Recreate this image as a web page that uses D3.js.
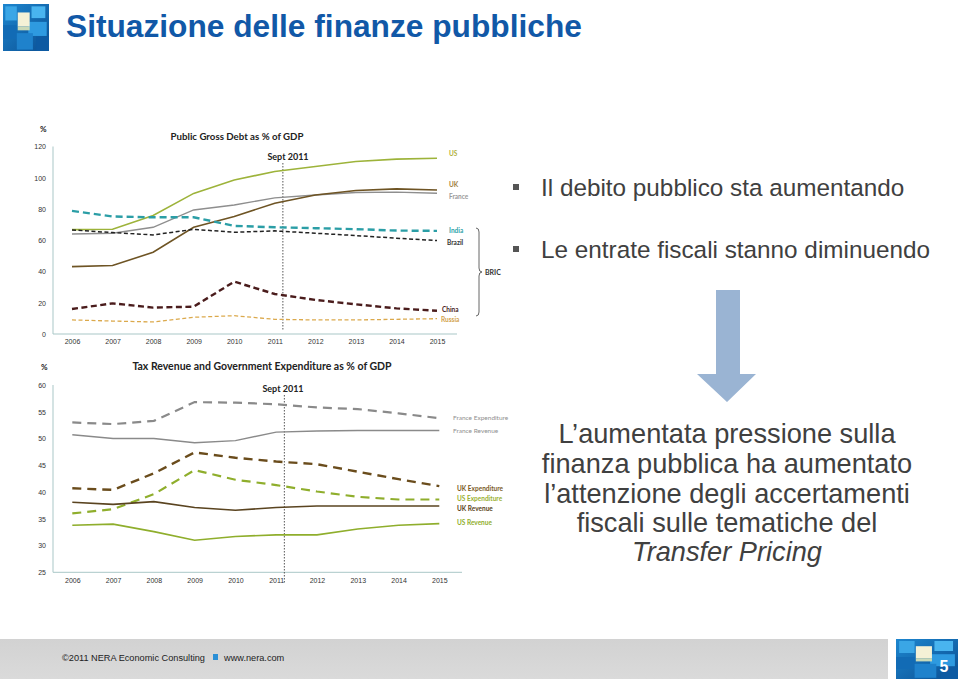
<!DOCTYPE html>
<html><head><meta charset="utf-8">
<script src="https://cdn.jsdelivr.net/npm/d3@7"></script>
<style>
html,body{margin:0;padding:0;background:#fff;}
svg{display:block;}
</style></head>
<body>
<svg id="chart" width="960" height="679"></svg>
<script>
// ---------- DATA ----------
const years = [2006, 2007, 2008, 2009, 2010, 2011, 2012, 2013, 2014, 2015];
const septMark = 2011.2;
const debtTicks = [0, 20, 40, 60, 80, 100, 120];
const taxTicks = [25, 30, 35, 40, 45, 50, 55, 60];

const debtUS     = [66.8, 67.0, 75.8, 90.0, 98.6, 104.0, 107.2, 110.4, 111.9, 112.5];
const debtUK     = [43.1, 43.8, 52.3, 68.3, 75.2, 83.7, 89.0, 91.8, 92.9, 92.2];
const debtFrance = [64.0, 64.5, 68.3, 79.4, 82.6, 87.1, 89.0, 90.6, 90.8, 90.1];
const debtIndia  = [78.8, 75.2, 74.7, 74.7, 69.2, 68.3, 67.7, 67.1, 66.2, 66.0];
const debtBrazil = [66.6, 64.9, 63.4, 67.0, 65.1, 66.0, 64.5, 63.0, 61.3, 59.8];
const debtChina  = [16.0, 19.6, 16.9, 17.5, 33.5, 25.6, 21.8, 19.0, 16.4, 14.9];
const debtRussia = [9.0, 8.3, 7.7, 10.7, 11.7, 9.4, 9.0, 9.0, 9.4, 9.8];

const taxFranceExp = [53.0, 52.7, 53.3, 56.8, 56.7, 56.4, 55.8, 55.5, 54.7, 53.8];
const taxFranceRev = [50.7, 50.0, 50.0, 49.2, 49.6, 51.2, 51.4, 51.5, 51.5, 51.5];
const taxUKExp     = [40.7, 40.4, 43.5, 47.4, 46.4, 45.7, 45.2, 43.8, 42.4, 41.1];
const taxUSExp     = [36.0, 36.8, 39.6, 44.1, 42.3, 41.3, 40.1, 39.1, 38.6, 38.6];
const taxUKRev     = [38.1, 37.7, 38.2, 37.1, 36.6, 37.1, 37.4, 37.4, 37.4, 37.4];
const taxUSRev     = [33.8, 34.0, 32.6, 31.0, 31.7, 32.0, 32.0, 33.1, 33.8, 34.1];

const debtSeries = [
  {name: "US", values: debtUS, color: "#9db33a", width: 1.6, dash: null, label: "US", lcolor: "#b0b03c", ly: 156, lx: 449},
  {name: "France", values: debtFrance, color: "#8e8e8e", width: 1.4, dash: null, label: "France", lcolor: "#9a9a9a", ly: 199, lx: 449},
  {name: "UK", values: debtUK, color: "#6e5424", width: 1.6, dash: null, label: "UK", lcolor: "#a08040", ly: 187, lx: 449},
  {name: "India", values: debtIndia, color: "#2b9ea6", width: 2.4, dash: "7,4", label: "India", lcolor: "#2fa3aa", ly: 233, lx: 449},
  {name: "Brazil", values: debtBrazil, color: "#222222", width: 1.5, dash: "4,2.5", label: "Brazil", lcolor: "#333333", ly: 245, lx: 447},
  {name: "China", values: debtChina, color: "#4a1c1c", width: 2.4, dash: "6,3.5", label: "China", lcolor: "#4a2323", ly: 312, lx: 442},
  {name: "Russia", values: debtRussia, color: "#dba94c", width: 1.3, dash: "4,2.5", label: "Russia", lcolor: "#d2a24c", ly: 322, lx: 441}
];

const taxSeries = [
  {name: "France Expenditure", values: taxFranceExp, color: "#8a8a8a", width: 2.2, dash: "9,6", lcolor: "#8f8f8f", ly: 420, bold: false},
  {name: "France Revenue", values: taxFranceRev, color: "#8a8a8a", width: 1.4, dash: null, lcolor: "#8f8f8f", ly: 433, bold: false},
  {name: "UK Expenditure", values: taxUKExp, color: "#6a4c1c", width: 2.4, dash: "9,6", lcolor: "#7a5a1e", ly: 491, bold: true},
  {name: "US Expenditure", values: taxUSExp, color: "#8fae2c", width: 2.2, dash: "9,6", lcolor: "#9ab032", ly: 501, bold: true},
  {name: "UK Revenue", values: taxUKRev, color: "#5a4420", width: 1.6, dash: null, lcolor: "#5a4420", ly: 511, bold: true},
  {name: "US Revenue", values: taxUSRev, color: "#8fae2c", width: 1.6, dash: null, lcolor: "#8fae2c", ly: 525, bold: true}
];

// ---------- DRAW ----------
const svg = d3.select("#chart");
const chartFont = "Lato, 'Open Sans', sans-serif";
const tickFont = "'Liberation Sans', Arial, sans-serif";

// Title
svg.append("text").attr("x", 66).attr("y", 37)
  .attr("font-family", "'Liberation Sans', Arial, sans-serif").attr("font-weight", "bold")
  .attr("font-size", 31.7).attr("fill", "#1158a7")
  .text("Situazione delle finanze pubbliche");

// Logo helper
function logo(g, x, y, w, h) {
  const grp = g.append("g").attr("transform", `translate(${x},${y})`);
  const defsId = "lg" + Math.round(x);
  const defs = svg.append("defs");
  const grad = defs.append("linearGradient").attr("id", defsId).attr("x1", 0).attr("y1", 0).attr("x2", 1).attr("y2", 1);
  grad.append("stop").attr("offset", "0").attr("stop-color", "#1d86cf");
  grad.append("stop").attr("offset", "1").attr("stop-color", "#0b4f92");
  grp.append("rect").attr("width", w).attr("height", h).attr("fill", `url(#${defsId})`);
  const blocks = [
    [0.05, 0.05, 0.25, 0.3, "#3aa6e6"], [0.62, 0.05, 0.3, 0.25, "#49b4ef"],
    [0.0, 0.45, 0.3, 0.3, "#126bb5"], [0.55, 0.38, 0.4, 0.3, "#2e9ae0"],
    [0.3, 0.62, 0.35, 0.35, "#1f82cc"], [0.72, 0.7, 0.28, 0.3, "#0d5aa2"]
  ];
  blocks.forEach(b => grp.append("rect").attr("x", b[0]*w).attr("y", b[1]*h)
    .attr("width", b[2]*w).attr("height", b[3]*h).attr("fill", b[4]));
  grp.append("rect").attr("x", 0.32*w).attr("y", 0.18*h).attr("width", 0.26*w).attr("height", 0.3*h).attr("fill", "#f4f1d6");
  grp.append("rect").attr("x", 0.32*w).attr("y", 0.48*h).attr("width", 0.26*w).attr("height", 0.08*h).attr("fill", "#c9d9b8");
  return grp;
}
logo(svg, 3, 4, 46, 47);

// ---------- Top chart: Public Gross Debt ----------
const x1 = d3.scaleLinear().domain([2006, 2015]).range([72, 437]);
const y1 = d3.scaleLinear().domain([0, 120]).range([334, 146.5]);

const topG = svg.append("g");
const yAx1 = topG.append("g").attr("transform", "translate(53,0)")
  .call(d3.axisLeft(y1).tickValues(debtTicks).tickSize(0).tickPadding(7));
yAx1.select(".domain").attr("stroke", "#a9c7c7").attr("d", `M0,${y1(0)}V${y1(120)}`);
yAx1.selectAll("text").attr("font-family", tickFont).attr("font-size", 7).attr("fill", "#333");

const xAx1 = topG.append("g").attr("transform", `translate(0,${y1(0)})`)
  .call(d3.axisBottom(x1).tickValues(years).tickFormat(d3.format("d")).tickSize(0).tickPadding(5));
xAx1.select(".domain").attr("stroke", "#a9c7c7").attr("d", "M53,0H457");
xAx1.selectAll("text").attr("font-family", tickFont).attr("font-size", 7).attr("fill", "#333");

topG.append("text").attr("x", 40).attr("y", 132).attr("font-family", chartFont).attr("font-weight", "bold")
  .attr("font-size", 8).attr("fill", "#222").text("%");
topG.append("text").attr("x", 237).attr("y", 140).attr("text-anchor", "middle")
  .attr("font-family", chartFont).attr("font-weight", "bold").attr("font-size", 9.7).attr("fill", "#222")
  .text("Public Gross Debt as % of GDP");
topG.append("text").attr("x", 288).attr("y", 160).attr("text-anchor", "middle")
  .attr("font-family", chartFont).attr("font-weight", "bold").attr("font-size", 9).attr("fill", "#222")
  .text("Sept 2011");
topG.append("line").attr("x1", x1(septMark)).attr("x2", x1(septMark)).attr("y1", 163).attr("y2", 331)
  .attr("stroke", "#555").attr("stroke-width", 1).attr("stroke-dasharray", "1.5,1.5");

const line1 = d3.line().x((d, i) => x1(years[i])).y(d => y1(d));
debtSeries.forEach(s => {
  topG.append("path").attr("d", line1(s.values)).attr("fill", "none")
    .attr("stroke", s.color).attr("stroke-width", s.width)
    .attr("stroke-dasharray", s.dash);
  topG.append("text").attr("x", s.lx).attr("y", s.ly).attr("font-family", chartFont)
    .attr("font-weight", "bold").attr("font-size", 6.5).attr("fill", s.lcolor).text(s.label);
});
// BRIC brace
const bx = 476, bTop = 228, bBot = 316, bMid = 272;
topG.append("path")
  .attr("d", `M${bx},${bTop} Q${bx+3},${bTop} ${bx+3},${bTop+4} L${bx+3},${bMid-4} Q${bx+3},${bMid} ${bx+6},${bMid} Q${bx+3},${bMid} ${bx+3},${bMid+4} L${bx+3},${bBot-4} Q${bx+3},${bBot} ${bx},${bBot}`)
  .attr("fill", "none").attr("stroke", "#555").attr("stroke-width", 0.9);
topG.append("text").attr("x", 485).attr("y", 275).attr("font-family", chartFont).attr("font-weight", "bold")
  .attr("font-size", 7).attr("fill", "#333").text("BRIC");

// ---------- Bottom chart: Tax revenue & expenditure ----------
const x2 = d3.scaleLinear().domain([2006, 2015]).range([72.3, 439.3]);
const y2 = d3.scaleLinear().domain([25, 60]).range([572.3, 385]);
const botG = svg.append("g");
const yAx2 = botG.append("g").attr("transform", "translate(53,0)")
  .call(d3.axisLeft(y2).tickValues(taxTicks).tickSize(0).tickPadding(7));
yAx2.select(".domain").attr("stroke", "#a9c7c7").attr("d", `M0,${y2(25)}V${y2(60)}`);
yAx2.selectAll("text").attr("font-family", tickFont).attr("font-size", 7).attr("fill", "#333");

const xAx2 = botG.append("g").attr("transform", `translate(0,${y2(25)})`)
  .call(d3.axisBottom(x2).tickValues(years).tickFormat(d3.format("d")).tickSize(0).tickPadding(6));
xAx2.select(".domain").attr("stroke", "#a9c7c7").attr("d", "M53,0H462");
xAx2.selectAll("text").attr("font-family", tickFont).attr("font-size", 7).attr("fill", "#333");

botG.append("text").attr("x", 41).attr("y", 370).attr("font-family", chartFont).attr("font-weight", "bold")
  .attr("font-size", 8).attr("fill", "#222").text("%");
botG.append("text").attr("x", 262).attr("y", 370).attr("text-anchor", "middle")
  .attr("font-family", chartFont).attr("font-weight", "bold").attr("font-size", 10.5).attr("fill", "#222")
  .text("Tax Revenue and Government Expenditure as % of GDP");
botG.append("text").attr("x", 283).attr("y", 392).attr("text-anchor", "middle")
  .attr("font-family", chartFont).attr("font-weight", "bold").attr("font-size", 9).attr("fill", "#222")
  .text("Sept 2011");
botG.append("line").attr("x1", x2(septMark)).attr("x2", x2(septMark)).attr("y1", 395).attr("y2", 584)
  .attr("stroke", "#555").attr("stroke-width", 1).attr("stroke-dasharray", "1.5,1.5");

const line2 = d3.line().x((d, i) => x2(years[i])).y(d => y2(d));
taxSeries.forEach(s => {
  botG.append("path").attr("d", line2(s.values)).attr("fill", "none")
    .attr("stroke", s.color).attr("stroke-width", s.width)
    .attr("stroke-dasharray", s.dash);
  botG.append("text").attr("x", s.bold ? 457 : 453).attr("y", s.ly).attr("font-family", chartFont)
    .attr("font-weight", s.bold ? "bold" : "normal").attr("font-size", 6.5).attr("fill", s.lcolor).text(s.name);
});

// ---------- Right-hand text ----------
const txtCol = "#404040";
const bodyFont = "'Liberation Sans', Arial, sans-serif";
[["Il debito pubblico sta aumentando", 196], ["Le entrate fiscali stanno diminuendo", 258]].forEach(b => {
  svg.append("rect").attr("x", 513).attr("y", b[1] - 12).attr("width", 6).attr("height", 6).attr("fill", "#555");
  svg.append("text").attr("x", 541).attr("y", b[1]).attr("font-family", bodyFont)
    .attr("font-size", 24.3).attr("fill", txtCol).text(b[0]);
});

// Arrow
svg.append("path")
  .attr("d", "M716,290 L740,290 L740,374 L756,374 L727,402 L697,374 L716,374 Z")
  .attr("fill", "#9ab4d3");

const para = [
  ["L\u2019aumentata pressione sulla", 443, false],
  ["finanza pubblica ha aumentato", 473, false],
  ["l\u2019attenzione degli accertamenti", 503, false],
  ["fiscali sulle tematiche del", 532, false],
  ["Transfer Pricing", 561, true]
];
para.forEach(p => {
  svg.append("text").attr("x", 727).attr("y", p[1]).attr("text-anchor", "middle")
    .attr("font-family", bodyFont).attr("font-size", 27.2).attr("fill", txtCol)
    .attr("font-style", p[2] ? "italic" : "normal").text(p[0]);
});

// ---------- Footer ----------
const fg = svg.append("defs").append("linearGradient").attr("id", "footg").attr("x1", 0).attr("y1", 0).attr("x2", 0).attr("y2", 1);
fg.append("stop").attr("offset", 0).attr("stop-color", "#d2d2d2");
fg.append("stop").attr("offset", 1).attr("stop-color", "#dadada");
svg.append("rect").attr("x", 0).attr("y", 639).attr("width", 888).attr("height", 40).attr("fill", "url(#footg)");
svg.append("text").attr("x", 62).attr("y", 661).attr("font-family", bodyFont).attr("font-size", 9.2)
  .attr("fill", "#222").text("\u00a92011 NERA Economic Consulting");
svg.append("rect").attr("x", 213).attr("y", 654).attr("width", 5).attr("height", 6).attr("fill", "#2a8fd6");
svg.append("text").attr("x", 224).attr("y", 661).attr("font-family", bodyFont).attr("font-size", 9.2)
  .attr("fill", "#222").text("www.nera.com");
logo(svg, 896, 639, 62, 40);
svg.append("text").attr("x", 944).attr("y", 672).attr("text-anchor", "middle").attr("font-family", bodyFont)
  .attr("font-weight", "bold").attr("font-size", 16).attr("fill", "#fff").text("5");
</script>
</body></html>
